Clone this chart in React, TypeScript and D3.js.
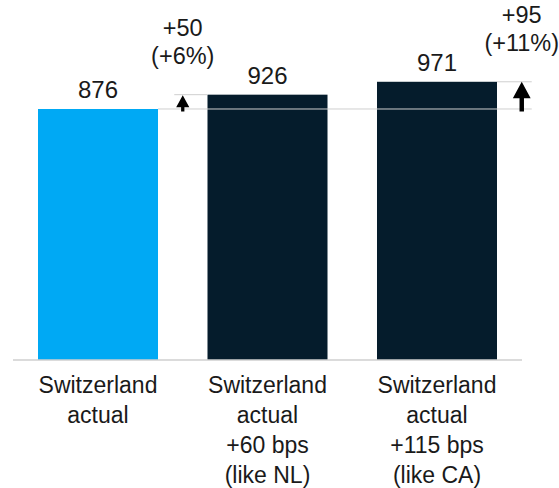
import React from "react";
import * as d3 from "d3";

// Mortgage-volume scenarios (bars) and the uplift against the actual figure.
const categories = ["actual", "nl", "ca"];
const categoryLabels: string[][] = [
  ["Switzerland", "actual"],
  ["Switzerland", "actual", "+60 bps", "(like NL)"],
  ["Switzerland", "actual", "+115 bps", "(like CA)"],
];
const values = [876, 926, 971];
const deltaLabels: string[][] = [
  [],
  ["+50", "(+6%)"],
  ["+95", "(+11%)"],
];
// which side of its bar the uplift arrow sits on
const deltaSide = ["", "left", "right"];

const W = 559;
const H = 488;
const FONT = "'Liberation Sans', Arial, Helvetica, sans-serif";
const TEXT = "#1a1a1a";
const CYAN = "#00A9F4";
const NAVY = "#051C2C";
const GRID = "#cfcfcf";

export default function App() {
  const x = d3
    .scaleBand<string>()
    .domain(categories)
    .range([38, 497])
    .paddingInner(0.292)
    .paddingOuter(0);
  const y = d3.scaleLinear().domain([0, 1000]).range([360, 360 - 286.53]);
  const bw = x.bandwidth();
  const gap = x.step() - bw;
  const base = values[0];
  const lastX = (x(categories[categories.length - 1]) as number) + bw;
  const refRight = lastX + gap / 2 + 10;

  return (
    <svg
      width={W}
      height={H}
      style={{ position: "absolute", left: 0, top: 0, background: "#fff" }}
      fontFamily={FONT}
    >
      {/* bars */}
      {categories.map((c, i) => (
        <rect
          key={c}
          x={x(c)}
          y={y(values[i])}
          width={bw}
          height={y(0) - y(values[i])}
          fill={i === 0 ? CYAN : NAVY}
        />
      ))}

      {/* baseline */}
      <line x1={13} x2={522} y1={y(0)} y2={y(0)} stroke={GRID} strokeWidth={1.6} />

      {/* reference line at the actual value */}
      <line
        x1={(x(categories[0]) as number) + bw}
        x2={refRight}
        y1={y(base)}
        y2={y(base)}
        stroke={GRID}
        strokeWidth={1}
      />

      {/* value labels */}
      {categories.map((c, i) => (
        <text
          key={c}
          x={(x(c) as number) + bw / 2}
          y={y(values[i]) - 11}
          textAnchor="middle"
          fontSize={24}
          fill={TEXT}
        >
          {values[i]}
        </text>
      ))}

      {/* uplift arrows */}
      {categories.map((c, i) => {
        if (!deltaSide[i]) return null;
        const left = deltaSide[i] === "left";
        const bx = x(c) as number;
        const ax = left ? bx - gap / 2 : bx + bw + gap / 2;
        const top = y(values[i]);
        const bottom = y(base);
        const len = bottom - top;
        const headLen = Math.min(16.5, len * 0.85);
        const headW = headLen * 1.08;
        const shaftW = headLen * 0.27;
        const tipY = top + (left ? 0.5 : 0);
        const path = [
          [ax, tipY],
          [ax + headW / 2, tipY + headLen],
          [ax + shaftW / 2, tipY + headLen],
          [ax + shaftW / 2, bottom + 2.5],
          [ax - shaftW / 2, bottom + 2.5],
          [ax - shaftW / 2, tipY + headLen],
          [ax - headW / 2, tipY + headLen],
        ];
        const lx1 = left ? ax - 8.5 : bx + bw;
        const lx2 = left ? bx : refRight;
        return (
          <g key={c}>
            <line x1={lx1} x2={lx2} y1={top} y2={top} stroke={GRID} strokeWidth={1} />
            <path d={(d3.line()(path as [number, number][]) as string) + "Z"} fill="#000" />
            {deltaLabels[i].map((t, k) => (
              <text
                key={k}
                x={ax}
                y={top - 59 + k * 28}
                textAnchor="middle"
                fontSize={23.5}
                fill={TEXT}
              >
                {t}
              </text>
            ))}
          </g>
        );
      })}

      {/* category labels */}
      {categories.map((c, i) => (
        <text
          key={c}
          x={(x(c) as number) + bw / 2}
          textAnchor="middle"
          fontSize={23}
          fill={TEXT}
        >
          {categoryLabels[i].map((t, k) => (
            <tspan key={k} x={(x(c) as number) + bw / 2} y={393 + k * 30}>
              {t}
            </tspan>
          ))}
        </text>
      ))}
    </svg>
  );
}
